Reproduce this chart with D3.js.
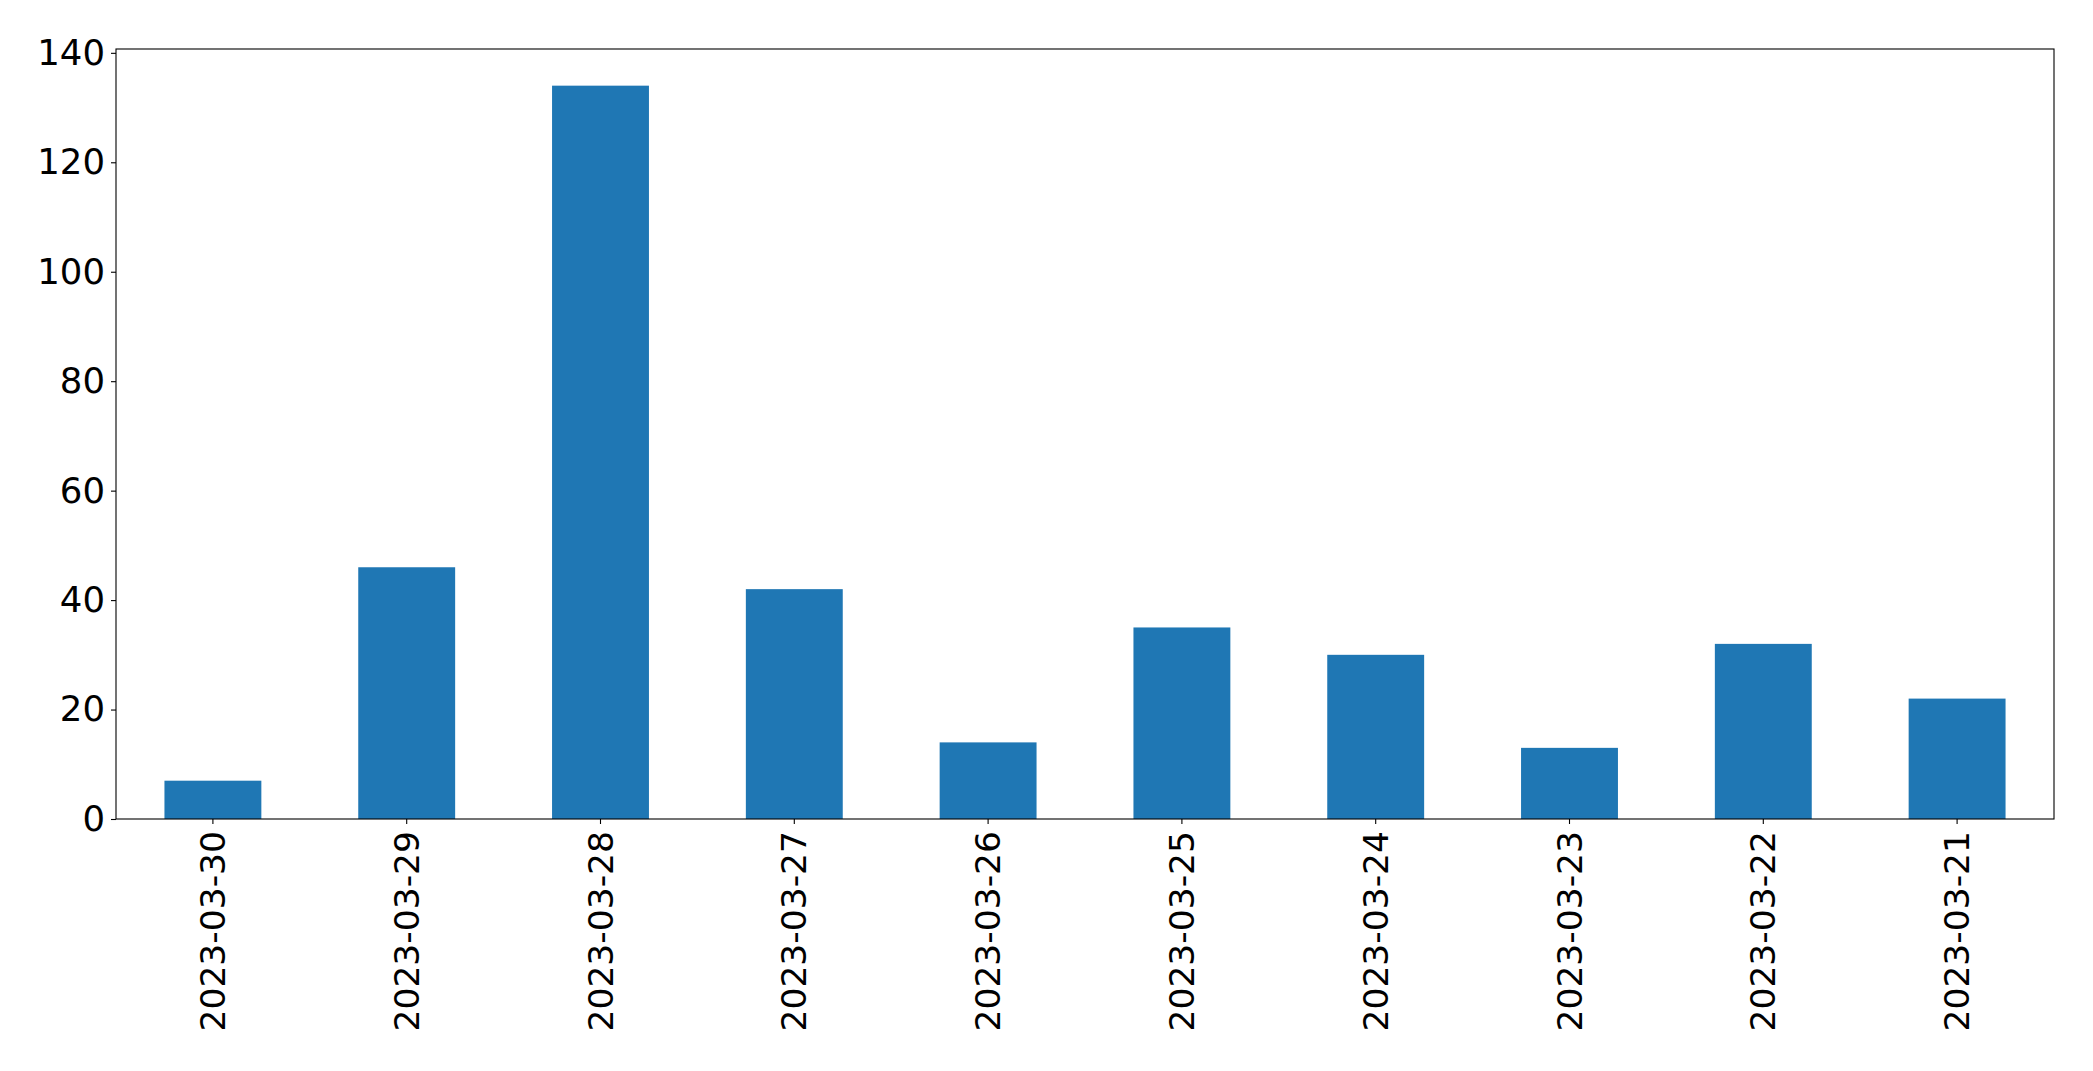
<!DOCTYPE html>
<html>
<head>
<meta charset="utf-8">
<script src="https://cdn.jsdelivr.net/npm/d3@7"></script>
<style>
  html, body { margin: 0; padding: 0; background: #fff; }
  svg { display: block; }
  text { font-family: "DejaVu Sans", sans-serif; }
</style>
</head>
<body>
<svg id="chart" width="2093" height="1071"></svg>
<script>
const categories = ["2023-03-30","2023-03-29","2023-03-28","2023-03-27","2023-03-26","2023-03-25","2023-03-24","2023-03-23","2023-03-22","2023-03-21"];
const values = [7, 46, 134, 42, 14, 35, 30, 13, 32, 22];
const yTicks = [0, 20, 40, 60, 80, 100, 120, 140];

const W = 2093, H = 1071;
const margin = {left: 116, right: W - 2054, top: 49, bottom: H - 819};
const iw = W - margin.left - margin.right;
const ih = H - margin.top - margin.bottom;

const svg = d3.select("#chart");
const g = svg.append("g").attr("transform", `translate(${margin.left},${margin.top})`);

const x = d3.scaleBand().domain(categories).range([0, iw]).paddingInner(0.5).paddingOuter(0.25);
const y = d3.scaleLinear().domain([0, d3.max(values) * 1.05]).range([ih, 0]);

g.selectAll("rect.bar").data(values).join("rect")
  .attr("class", "bar")
  .attr("x", (d, i) => x(categories[i]))
  .attr("y", d => y(d))
  .attr("width", x.bandwidth())
  .attr("height", d => y(0) - y(d))
  .attr("fill", "#1f77b4");

const fs = 34.5;
const yAxis = g.append("g").call(d3.axisLeft(y).tickValues(yTicks).tickSize(5).tickPadding(6).tickFormat(d3.format("d")));
yAxis.select(".domain").remove();
yAxis.selectAll("text").attr("font-size", fs + 1).attr("fill", "#000").attr("font-family", "DejaVu Sans, sans-serif");
yAxis.selectAll("line").attr("stroke", "#000").attr("stroke-width", 1.1);

const xAxis = g.append("g").attr("transform", `translate(0,${ih})`)
  .call(d3.axisBottom(x).tickSize(5).tickPadding(0));
xAxis.select(".domain").remove();
xAxis.selectAll("line").attr("stroke", "#000").attr("stroke-width", 1.1);
xAxis.selectAll("text")
  .attr("font-size", fs).attr("fill", "#000").attr("font-family", "DejaVu Sans, sans-serif")
  .attr("transform", "rotate(-90)")
  .attr("x", -12).attr("y", 0).attr("dy", "0.35em")
  .attr("text-anchor", "end");

g.append("rect").attr("x", 0).attr("y", 0).attr("width", iw).attr("height", ih)
  .attr("fill", "none").attr("stroke", "#000").attr("stroke-width", 1.1);
</script>
</body>
</html>
